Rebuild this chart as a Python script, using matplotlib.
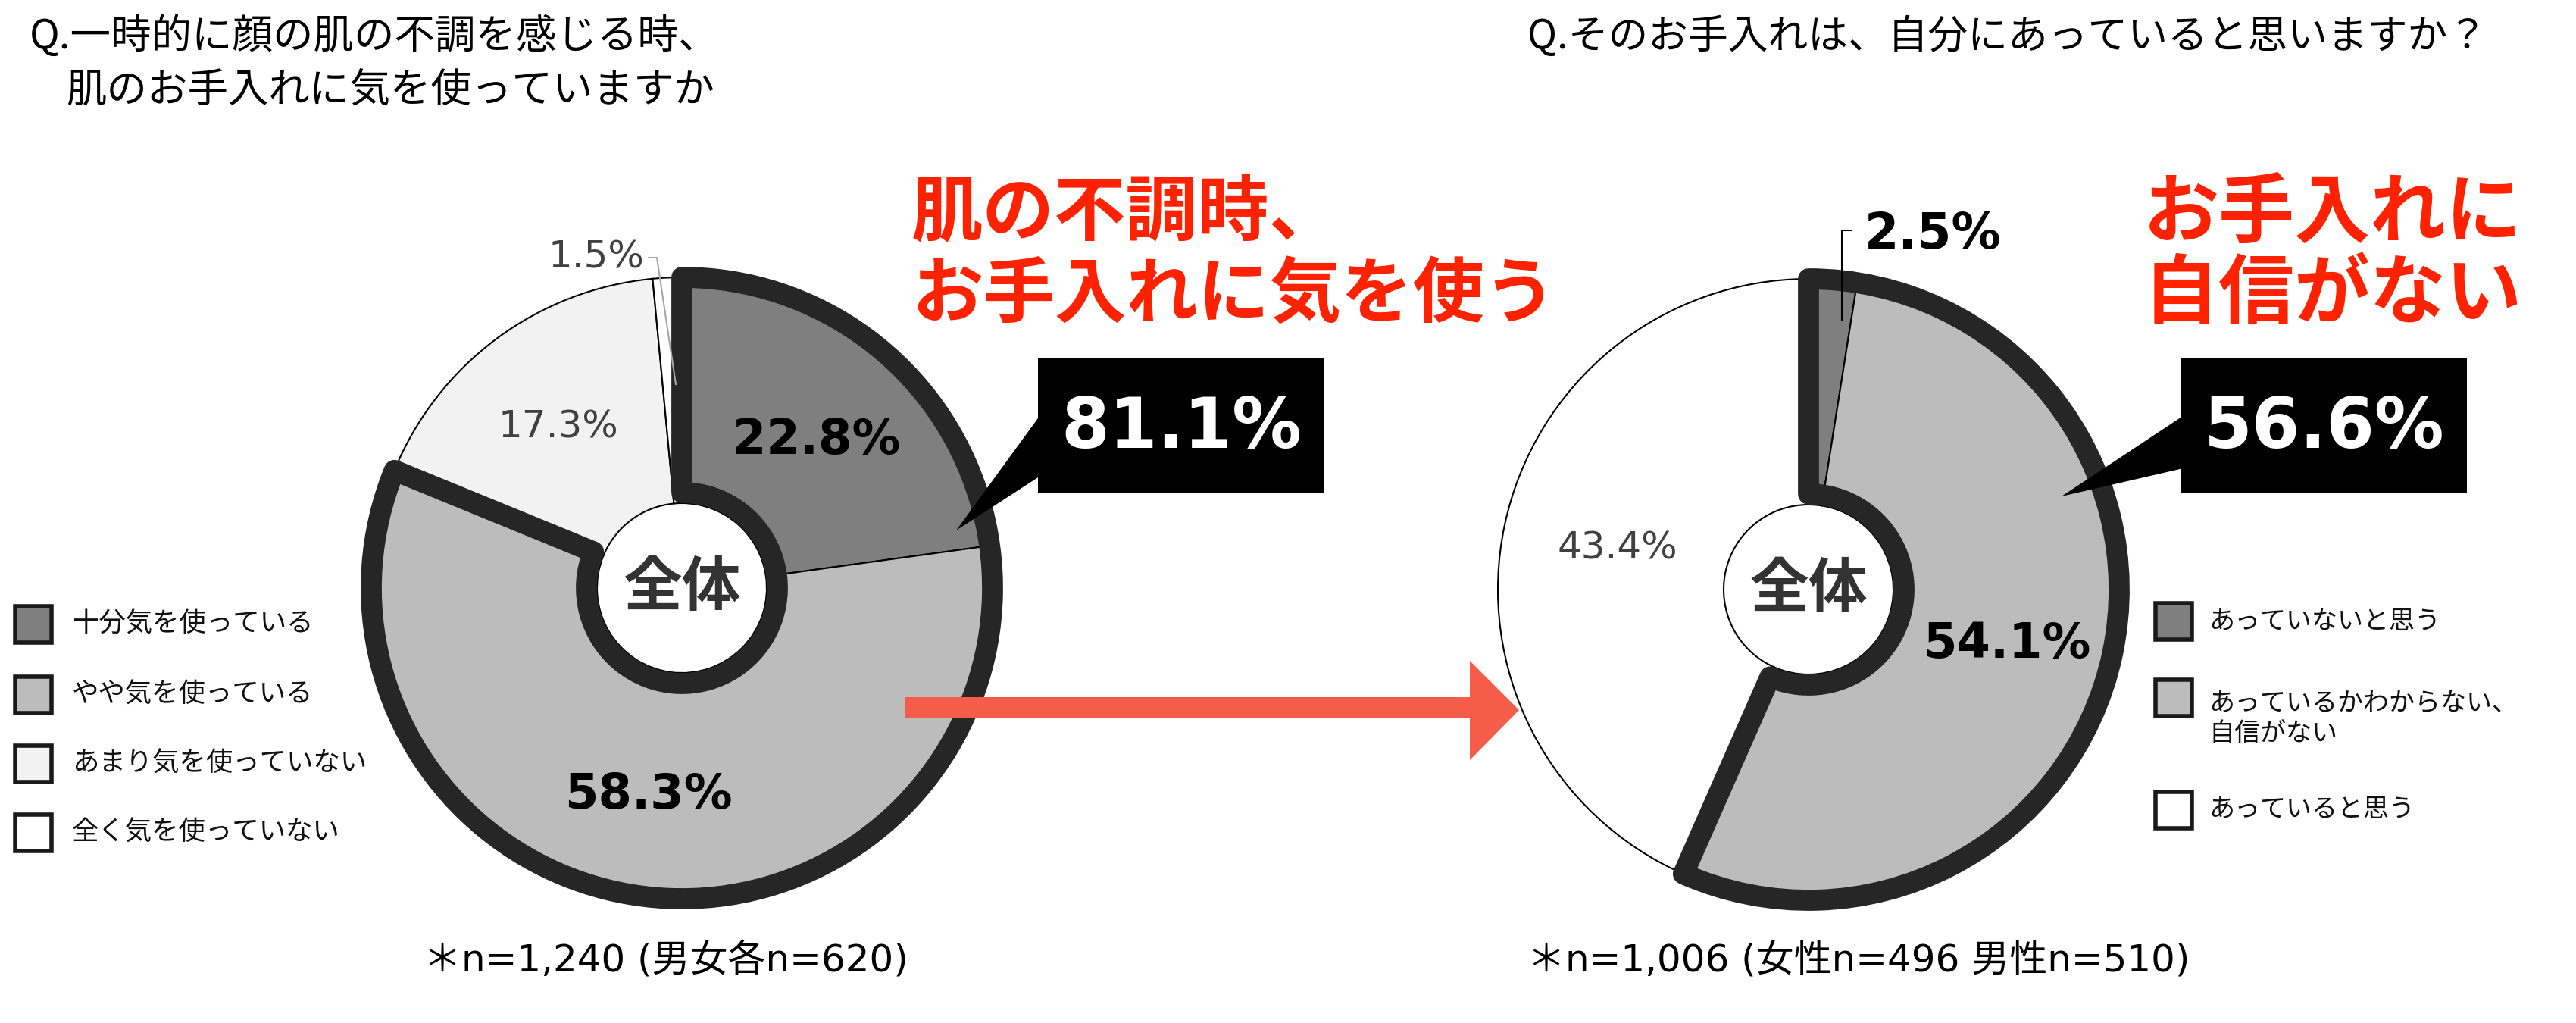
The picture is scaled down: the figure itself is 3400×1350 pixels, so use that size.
import matplotlib
matplotlib.use("Agg")
import matplotlib.pyplot as plt
from matplotlib.patches import Wedge, Rectangle, Polygon

plt.rcParams['font.family'] = ['Noto Sans CJK JP', 'DejaVu Sans']

# Data
left_title = "Q.一時的に顔の肌の不調を感じる時、"
left_title2 = "肌のお手入れに気を使っていますか"
left_labels = ["十分気を使っている", "やや気を使っている", "あまり気を使っていない", "全く気を使っていない"]
left_values = [22.8, 58.3, 17.3, 1.5]
left_colors = ["#7f7f7f", "#bcbcbc", "#f2f2f2", "#ffffff"]
left_note = "＊n=1,240 (男女各n=620)"
left_head = ["肌の不調時、", "お手入れに気を使う"]

right_title = "Q.そのお手入れは、自分にあっていると思いますか？"
right_labels = ["あっていないと思う", "あっているかわからない、\n自信がない", "あっていると思う"]
right_values = [2.5, 54.1, 43.4]
right_colors = ["#7f7f7f", "#bcbcbc", "#ffffff"]
right_note = "＊n=1,006 (女性n=496 男性n=510)"
right_head = ["お手入れに", "自信がない"]

W, H = 3400, 1350
R_OUT, R_IN, R_HL_IN = 410, 112, 126
BORDER = "#262626"

fig = plt.figure(figsize=(34, 13.5), dpi=100)
fig.patch.set_facecolor("white")


def donut(cx, cy, values, colors, n_hl):
    ax = fig.add_axes([(cx - 500) / W, (H - cy - 500) / H, 1000 / W, 1000 / H])
    ax.pie(values, colors=colors, radius=R_OUT, startangle=90, counterclock=False,
           wedgeprops=dict(width=R_OUT - R_IN, edgecolor="black", linewidth=1.5))
    # thick outline round the highlighted group
    frac = sum(values[:n_hl]) / sum(values)
    ax.add_patch(Wedge((0, 0), R_OUT, 90 - 360 * frac, 90, width=R_OUT - R_HL_IN,
                       fill=False, edgecolor=BORDER, linewidth=20, joinstyle="round"))
    ax.text(0, 0, "全体", ha="center", va="center", fontsize=56, fontweight="bold", color="#333333")
    ax.set_xlim(-500, 500)
    ax.set_ylim(-500, 500)
    ax.axis("off")
    return ax


axl = donut(900, 776, left_values, left_colors, 2)
fmt = lambda v: f"{v:.1f}%"
axl.text(178, 195, fmt(left_values[0]), ha="center", va="center", fontsize=46,
         fontweight="bold", family="DejaVu Sans", color="black")
axl.text(-44, -273, fmt(left_values[1]), ha="center", va="center", fontsize=46,
         fontweight="bold", family="DejaVu Sans", color="black")
axl.text(-163, 212, fmt(left_values[2]), ha="center", va="center", fontsize=36,
         family="DejaVu Sans", color="#404040")
axl.text(-50, 436, fmt(left_values[3]), ha="right", va="center", fontsize=36,
         family="DejaVu Sans", color="#404040")
axl.plot([-44, -33, -8], [436, 436, 269], color="#a6a6a6", lw=1.5)

axr = donut(2387, 778, right_values, right_colors, 2)
axr.text(262, -72, fmt(right_values[1]), ha="center", va="center", fontsize=46,
         fontweight="bold", family="DejaVu Sans", color="black")
axr.text(-252, 54, fmt(right_values[2]), ha="center", va="center", fontsize=36,
         family="DejaVu Sans", color="#404040")
axr.text(74, 468, fmt(right_values[0]), ha="left", va="center", fontsize=47,
         fontweight="bold", family="DejaVu Sans", color="black")
axr.plot([56, 44, 44], [474, 474, 355], color="black", lw=1.5)

# overlay in pixel coords
ax = fig.add_axes([0, 0, 1, 1])
ax.set_xlim(0, W)
ax.set_ylim(H, 0)
ax.set_facecolor("none")
ax.axis("off")

# titles
ax.text(39, 48, left_title, fontsize=38.5, va="center", ha="left")
ax.text(87, 119, left_title2, fontsize=38.5, va="center", ha="left")
ax.text(2016, 48, right_title, fontsize=38, va="center", ha="left")

# red headlines
red = "#ff2200"
for i, s in enumerate(left_head):
    ax.text(1203, 282 + 108 * i, s, fontsize=68, fontweight="bold", color=red, va="center", ha="left")
for i, s in enumerate(right_head):
    ax.text(2829, 282 + 108 * i, s, fontsize=72, fontweight="bold", color=red, va="center", ha="left")


# callout boxes
def callout(x0, x1, y0, y1, f_top, f_bot, tip, value):
    h = y1 - y0
    ax.add_patch(Rectangle((x0, y0), x1 - x0, h, facecolor="black", edgecolor="none", zorder=3))
    ax.add_patch(Polygon([(x0 + 2, y0 + f_top * h), tip, (x0 + 2, y0 + f_bot * h)],
                         closed=True, facecolor="black", edgecolor="none", zorder=3))
    ax.text((x0 + x1) / 2, (y0 + y1) / 2 + 4, f"{value:.1f}%", color="white", fontsize=66,
            fontweight="bold", family="DejaVu Sans", ha="center", va="center", zorder=4)


callout(1370, 1748, 473, 650, 0.43, 0.88, (1262, 700), sum(left_values[:2]))
callout(2879, 3256, 473, 650, 0.43, 0.82, (2721, 655), sum(right_values[:2]))

# arrow
arrow_c = "#f55c4a"
ax.add_patch(Polygon([(1195, 920), (1940, 920), (1940, 872), (2005, 937), (1940, 1003),
                      (1940, 948), (1195, 948)], closed=True, facecolor=arrow_c, edgecolor="none"))


# legends
def legend(x, ys, labels, colors, fs, tx):
    for y, lab, c in zip(ys, labels, colors):
        ax.add_patch(Rectangle((x, y - 24), 48, 48, facecolor=c, edgecolor="#1a1a1a", linewidth=4))
        n = lab.count("\n")
        ax.text(tx, y + 27 * n, lab, fontsize=fs, va="center", ha="left", color="#111111",
                linespacing=1.2)


legend(20, [824, 917, 1008, 1099], left_labels, left_colors, 25.5, 95)
legend(2845, [820, 921, 1069], right_labels, right_colors, 24.5, 2915)

# footnotes
ax.text(559, 1268, left_note, fontsize=36, va="center", ha="left",
        family=["DejaVu Sans", "Noto Sans CJK JP"])
ax.text(2016, 1268, right_note, fontsize=36, va="center", ha="left",
        family=["DejaVu Sans", "Noto Sans CJK JP"])

fig.savefig("out.png", dpi=100, facecolor="white")
